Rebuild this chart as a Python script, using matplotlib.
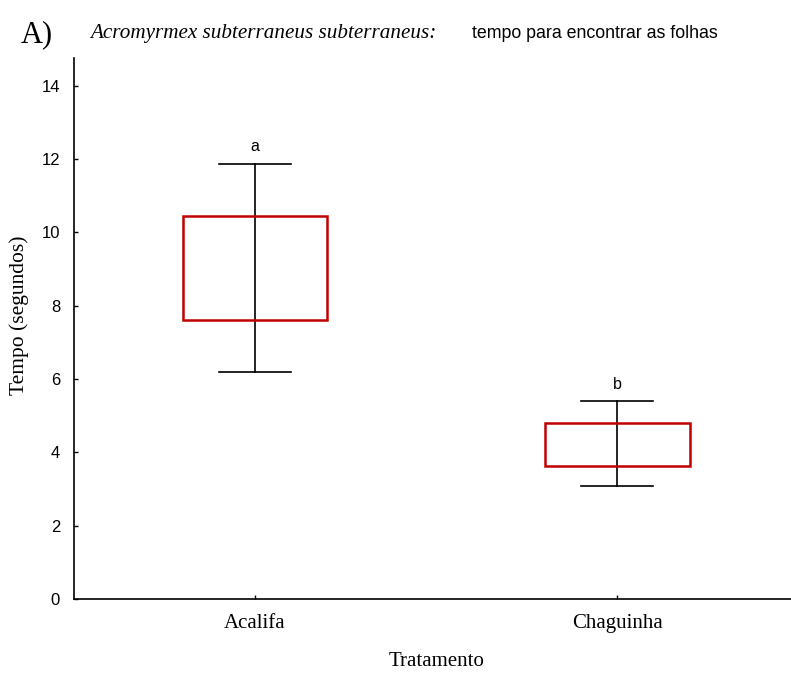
import matplotlib
matplotlib.use("Agg")
import matplotlib.pyplot as plt
from matplotlib.patches import Rectangle

categories = ["Acalifa", "Chaguinha"]
box_low = [7.60, 3.64]
box_high = [10.46, 4.79]
whisk_low = [6.20, 3.07]
whisk_high = [11.88, 5.39]
letters = ["a", "b"]
yticks = [0, 2, 4, 6, 8, 10, 12, 14]

W, H = 791, 673
fig = plt.figure(figsize=(W/100, H/100), dpi=100)
ax = fig.add_axes([74/W, (H-599)/H, (791-74)/W, (599-58)/H])

red = "#c00000"
bw, cw = 0.40, 0.20
for i, cat in enumerate(categories):
    ax.plot([i, i], [whisk_low[i], whisk_high[i]], color="black", lw=1.2, zorder=2)
    ax.plot([i-cw/2, i+cw/2], [whisk_low[i]]*2, color="black", lw=1.2, zorder=2)
    ax.plot([i-cw/2, i+cw/2], [whisk_high[i]]*2, color="black", lw=1.2, zorder=2)
    ax.add_patch(Rectangle((i-bw/2, box_low[i]), bw, box_high[i]-box_low[i],
                           fill=False, edgecolor=red, lw=1.8, zorder=3))
    ax.text(i, whisk_high[i]+0.25, letters[i], ha="center", va="bottom",
            fontsize=11.5, family="Liberation Sans")

ax.set_xlim(-0.5, 1.48)
ax.set_ylim(0, 14.76)
ax.set_xticks(range(len(categories)))
ax.set_xticklabels(categories, family="Liberation Serif", fontsize=15)
ax.set_yticks(yticks)
ax.set_yticklabels([str(t) for t in yticks], family="Liberation Sans", fontsize=12)
ax.tick_params(axis="both", direction="in", length=3, width=1)
ax.tick_params(axis="x", pad=11)
ax.tick_params(axis="y", pad=10)
for s in ["top", "right"]:
    ax.spines[s].set_visible(False)
for s in ["left", "bottom"]:
    ax.spines[s].set_linewidth(1.2)

fig.text(19/W, 1-(315/H), "Tempo (segundos)", rotation=90, family="Liberation Serif",
         fontsize=15.5, ha="center", va="center")
fig.text(437/W, 1-(662/H), "Tratamento", family="Liberation Serif", fontsize=15,
         ha="center", va="center")
fig.text(21/W, 1-(42/H), "A)", family="Liberation Serif", fontsize=22,
         ha="left", va="baseline")
fig.text(90/W, 1-(38/H), "Acromyrmex subterraneus subterraneus:", family="Liberation Serif",
         style="italic", fontsize=15.2, ha="left", va="baseline")
fig.text(472/W, 1-(38/H), "tempo para encontrar as folhas", family="Liberation Sans",
         fontsize=12.8, ha="left", va="baseline")

fig.savefig("out.png", dpi=100)
